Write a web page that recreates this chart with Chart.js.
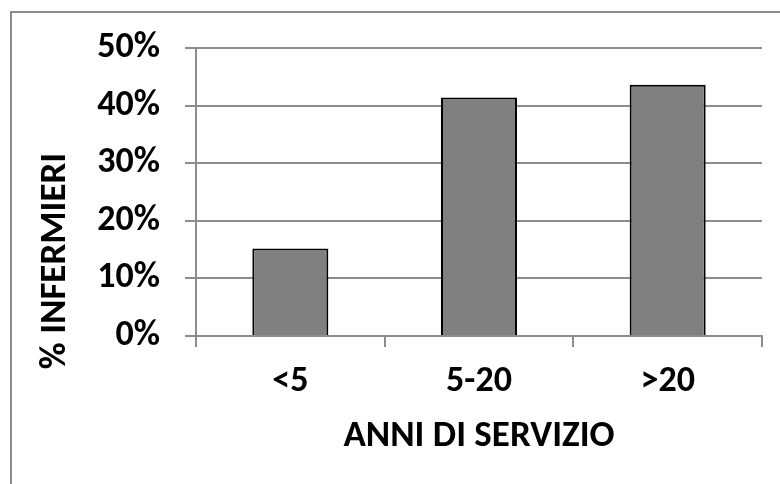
<!DOCTYPE html>
<html>
<head>
<meta charset="utf-8">
<script src="https://cdn.jsdelivr.net/npm/chart.js@4/dist/chart.umd.min.js"></script>
<style>
    html, body { margin: 0; padding: 0; background: #fff; overflow: hidden; }
    #wrap { position: relative; width: 780px; height: 484px; }
    #frame {
        position: absolute; left: 10px; top: 11px; width: 800px; height: 500px;
        border-left: 2px solid #8c8c8c; border-top: 2px solid #8c8c8c;
    }
    #chartAnni { position: absolute; left: 0; top: 0; }
</style>
</head>
<body>
<div id="wrap">
    <div id="frame"></div>
    <canvas id="chartAnni" width="780" height="484"></canvas>
</div>
<script>
const categorie = ["<5", "5-20", ">20"];
const percentuali = [15.2, 41.4, 43.6];
const titoloX = "ANNI DI SERVIZIO";
const titoloY = "% INFERMIERI";

const FONT = "Calibri, Carlito, 'Open Sans', sans-serif";
const GRIGIO = "#8c8c8c";

// titolo asse Y disegnato a mano, come in Excel e' centrato piu' in basso
const titoloAsseY = {
    id: "titoloAsseY",
    afterDraw(chart) {
        const ctx = chart.ctx;
        ctx.save();
        ctx.translate(56, 261);
        ctx.rotate(-Math.PI / 2);
        ctx.font = "bold 37px " + FONT;
        ctx.fillStyle = "#000";
        ctx.textAlign = "center";
        ctx.textBaseline = "middle";
        ctx.fillText(titoloY, 0, 0);
        ctx.restore();
    }
};

document.addEventListener("DOMContentLoaded", function () {
    const canvas = document.getElementById("chartAnni");

    new Chart(canvas, {
        type: "bar",
        data: {
            labels: categorie,
            datasets: [{
                data: percentuali,
                backgroundColor: "#808080",
                borderColor: "#000",
                borderWidth: 2,
                barPercentage: 0.403,
                categoryPercentage: 1
            }]
        },
        options: {
            responsive: false,
            animation: false,
            layout: { padding: { left: 76, right: 18, top: 48, bottom: 0 } },
            plugins: {
                legend: { display: false },
                tooltip: { enabled: false }
            },
            scales: {
                x: {
                    afterFit: s => { s.height = 148; },
                    grid: {
                        drawOnChartArea: false,
                        drawTicks: true,
                        tickLength: 11,
                        color: GRIGIO,
                        lineWidth: 2
                    },
                    border: { color: GRIGIO, width: 2 },
                    ticks: {
                        padding: 13,
                        color: "#000",
                        font: { family: FONT, size: 36, weight: "bold" }
                    },
                    title: {
                        display: true,
                        text: titoloX,
                        color: "#000",
                        padding: { top: 0, bottom: 25 },
                        font: { family: FONT, size: 37, weight: "bold" }
                    }
                },
                y: {
                    min: 0,
                    max: 50,
                    afterFit: s => { s.width = 120; },
                    grid: {
                        color: GRIGIO,
                        lineWidth: 2,
                        tickLength: 11
                    },
                    border: { color: GRIGIO, width: 2 },
                    ticks: {
                        stepSize: 10,
                        padding: 25,
                        color: "#000",
                        font: { family: FONT, size: 36, weight: "bold" },
                        callback: v => v + "%"
                    }
                }
            }
        },
        plugins: [titoloAsseY]
    });
});
</script>
</body>
</html>
